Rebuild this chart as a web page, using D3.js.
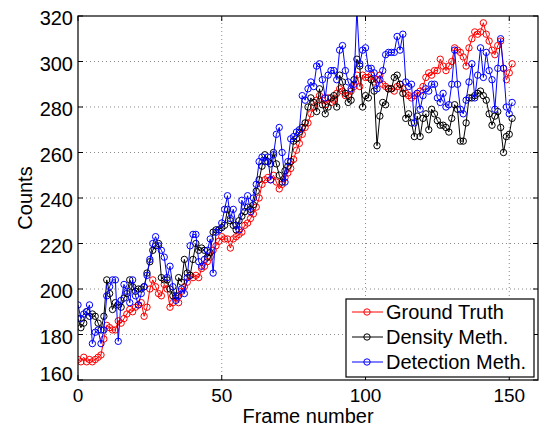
<!DOCTYPE html>
<html>
<head>
<meta charset="utf-8">
<script src="https://cdn.jsdelivr.net/npm/d3@7"></script>
<style>
body { margin: 0; background: #fff; }
text { font-family: "Liberation Sans", Arial, Helvetica, sans-serif; }
</style>
</head>
<body>
<div id="chart"></div>
<script>
// counts per frame (frame 0 .. 151)
const groundTruth = [
	169,168,170,168,169,168,169,170,171,178,
	184,183,182,182,186,185,187,189,191,190,
	192,193,194,188,192,200,204,201,198,197,
	202,200,192,194,196,194,199,201,203,206,
	205,206,205,209,210,212,214,217,219,221,
	223,222,222,218,222,223,224,225,228,229,
	231,233,236,240,246,248,249,248,250,247,
	244,246,249,251,253,257,261,264,268,271,
	273,277,280,283,285,283,281,284,282,283,
	286,288,287,285,285,287,289,294,289,294,
	293,293,294,291,292,294,290,289,288,288,
	287,289,290,288,286,285,284,285,286,287,
	289,293,295,294,296,296,301,298,296,298,
	300,306,305,304,302,298,306,310,313,312,
	313,317,312,309,305,303,307,309,297,292,
	295,299
];
const densityMeth = [
	187,183,185,190,188,189,188,185,182,188,
	204,198,191,194,193,192,196,198,204,201,
	199,200,200,201,207,212,217,219,220,205,
	204,204,200,197,197,205,203,213,207,206,
	213,220,217,218,217,214,216,225,226,226,
	227,228,235,230,228,226,230,232,234,236,
	235,237,243,248,254,259,256,255,260,255,
	250,247,252,254,256,265,266,269,271,273,
	280,284,282,278,288,281,277,280,284,285,
	280,294,291,286,282,283,292,301,298,280,
	285,284,292,287,263,276,282,281,288,288,
	293,294,290,286,275,277,273,267,276,267,
	275,277,270,279,277,274,272,272,271,269,
	275,281,279,265,265,273,284,284,285,286,
	287,285,283,277,272,276,278,271,260,267,
	268,275
];
const detectionMeth = [
	193,187,189,190,193,176,181,182,176,182,
	197,201,204,204,177,195,202,199,194,204,
	197,193,198,201,206,213,220,223,219,217,
	214,205,210,201,195,197,200,198,205,219,
	224,224,212,210,213,217,222,207,225,226,
	229,235,241,231,235,228,226,239,236,241,
	234,240,246,256,258,256,258,248,259,268,
	271,260,247,256,266,267,269,270,285,283,
	288,291,289,298,299,292,284,294,296,296,
	292,305,307,296,291,288,290,323,299,305,
	306,297,297,295,288,292,296,303,304,304,
	304,311,305,312,291,289,290,273,286,279,
	285,288,287,290,290,284,282,286,280,281,
	290,305,290,279,277,283,291,299,284,294,
	306,293,304,296,292,279,297,310,297,280,
	277,282
];
const seriesNames = ["Ground Truth", "Density Meth.", "Detection Meth."];
const seriesColors = ["#ff0000", "#000000", "#0000ff"];
const xTicks = [0, 50, 100, 150];
const yTicks = [160, 180, 200, 220, 240, 260, 280, 300, 320];

const W = 552, H = 427;
const m = {left: 78, right: 14, top: 16, bottom: 47};

const svg = d3.select("#chart").append("svg")
	.attr("width", W)
	.attr("height", H);

const x = d3.scaleLinear().domain([0, 160]).range([m.left, W - m.right]);
const y = d3.scaleLinear().domain([160, 320]).range([H - m.bottom, m.top]);

svg.append("defs").append("clipPath").attr("id", "plotclip")
	.append("rect")
	.attr("x", x(0)).attr("y", y(320))
	.attr("width", x(160) - x(0)).attr("height", y(160) - y(320));

// dotted grid
const grid = svg.append("g");
grid.selectAll(".gx").data(xTicks.filter(d => d > 0)).enter().append("line")
	.attr("x1", d => x(d)).attr("x2", d => x(d))
	.attr("y1", y(160)).attr("y2", y(320))
	.attr("stroke", "#8a8a8a").attr("stroke-dasharray", "1,3");
grid.selectAll(".gy").data(yTicks.filter(d => d > 160 && d < 320)).enter().append("line")
	.attr("x1", x(0)).attr("x2", x(160))
	.attr("y1", d => y(d)).attr("y2", d => y(d))
	.attr("stroke", "#8a8a8a").attr("stroke-dasharray", "1,3");

// series
const allSeries = [groundTruth, densityMeth, detectionMeth];
const line = d3.line().x((d, i) => x(i)).y(d => y(d));
const plot = svg.append("g").attr("clip-path", "url(#plotclip)");
allSeries.forEach((vals, k) => {
	const g = plot.append("g");
	g.append("path")
		.datum(vals)
		.attr("d", line)
		.attr("fill", "none")
		.attr("stroke", seriesColors[k])
		.attr("stroke-width", 1);
	g.selectAll("circle").data(vals).enter().append("circle")
		.attr("cx", (d, i) => x(i))
		.attr("cy", d => y(d))
		.attr("r", 3.2)
		.attr("fill", "none")
		.attr("stroke", seriesColors[k])
		.attr("stroke-width", 1);
});

// axes, ticks inward on all four sides
const tickLen = 5;
const axes = svg.append("g");
axes.selectAll(".tx").data(xTicks).enter().append("path")
	.attr("d", d => `M${x(d)},${y(160)}v${-tickLen}M${x(d)},${y(320)}v${tickLen}`)
	.attr("stroke", "#000");
axes.selectAll(".ty").data(yTicks).enter().append("path")
	.attr("d", d => `M${x(0)},${y(d)}h${tickLen}M${x(160)},${y(d)}h${-tickLen}`)
	.attr("stroke", "#000");
axes.append("rect")
	.attr("x", x(0)).attr("y", y(320))
	.attr("width", x(160) - x(0)).attr("height", y(160) - y(320))
	.attr("fill", "none").attr("stroke", "#000").attr("stroke-width", 1.2);

axes.selectAll(".lx").data(xTicks).enter().append("text")
	.attr("x", d => x(d)).attr("y", y(160) + 22)
	.attr("text-anchor", "middle")
	.attr("font-size", 19)
	.text(d => d);
axes.selectAll(".ly").data(yTicks).enter().append("text")
	.attr("x", x(0) - 5)
	.attr("y", d => y(d) + (d == 160 ? 1 : 9))
	.attr("text-anchor", "end")
	.attr("font-size", 20)
	.text(d => d);

svg.append("text")
	.attr("x", (x(0) + x(160)) / 2).attr("y", 423)
	.attr("text-anchor", "middle")
	.attr("font-size", 20)
	.text("Frame number");
svg.append("text")
	.attr("transform", `translate(32,${(y(160) + y(320)) / 2}) rotate(-90)`)
	.attr("text-anchor", "middle")
	.attr("font-size", 20)
	.text("Counts");

// legend
const lg = svg.append("g");
lg.append("rect")
	.attr("x", 346).attr("y", 299)
	.attr("width", 188).attr("height", 78)
	.attr("fill", "#fff").attr("stroke", "#000").attr("stroke-width", 1.2);
seriesNames.forEach((name, k) => {
	const ly = 312 + k * 25;
	lg.append("line")
		.attr("x1", 352).attr("x2", 383)
		.attr("y1", ly).attr("y2", ly)
		.attr("stroke", seriesColors[k]);
	lg.append("circle")
		.attr("cx", 367).attr("cy", ly).attr("r", 3.2)
		.attr("fill", "none").attr("stroke", seriesColors[k]);
	lg.append("text")
		.attr("x", 386).attr("y", ly + 7)
		.attr("font-size", 20)
		.text(name);
});
</script>
</body>
</html>
